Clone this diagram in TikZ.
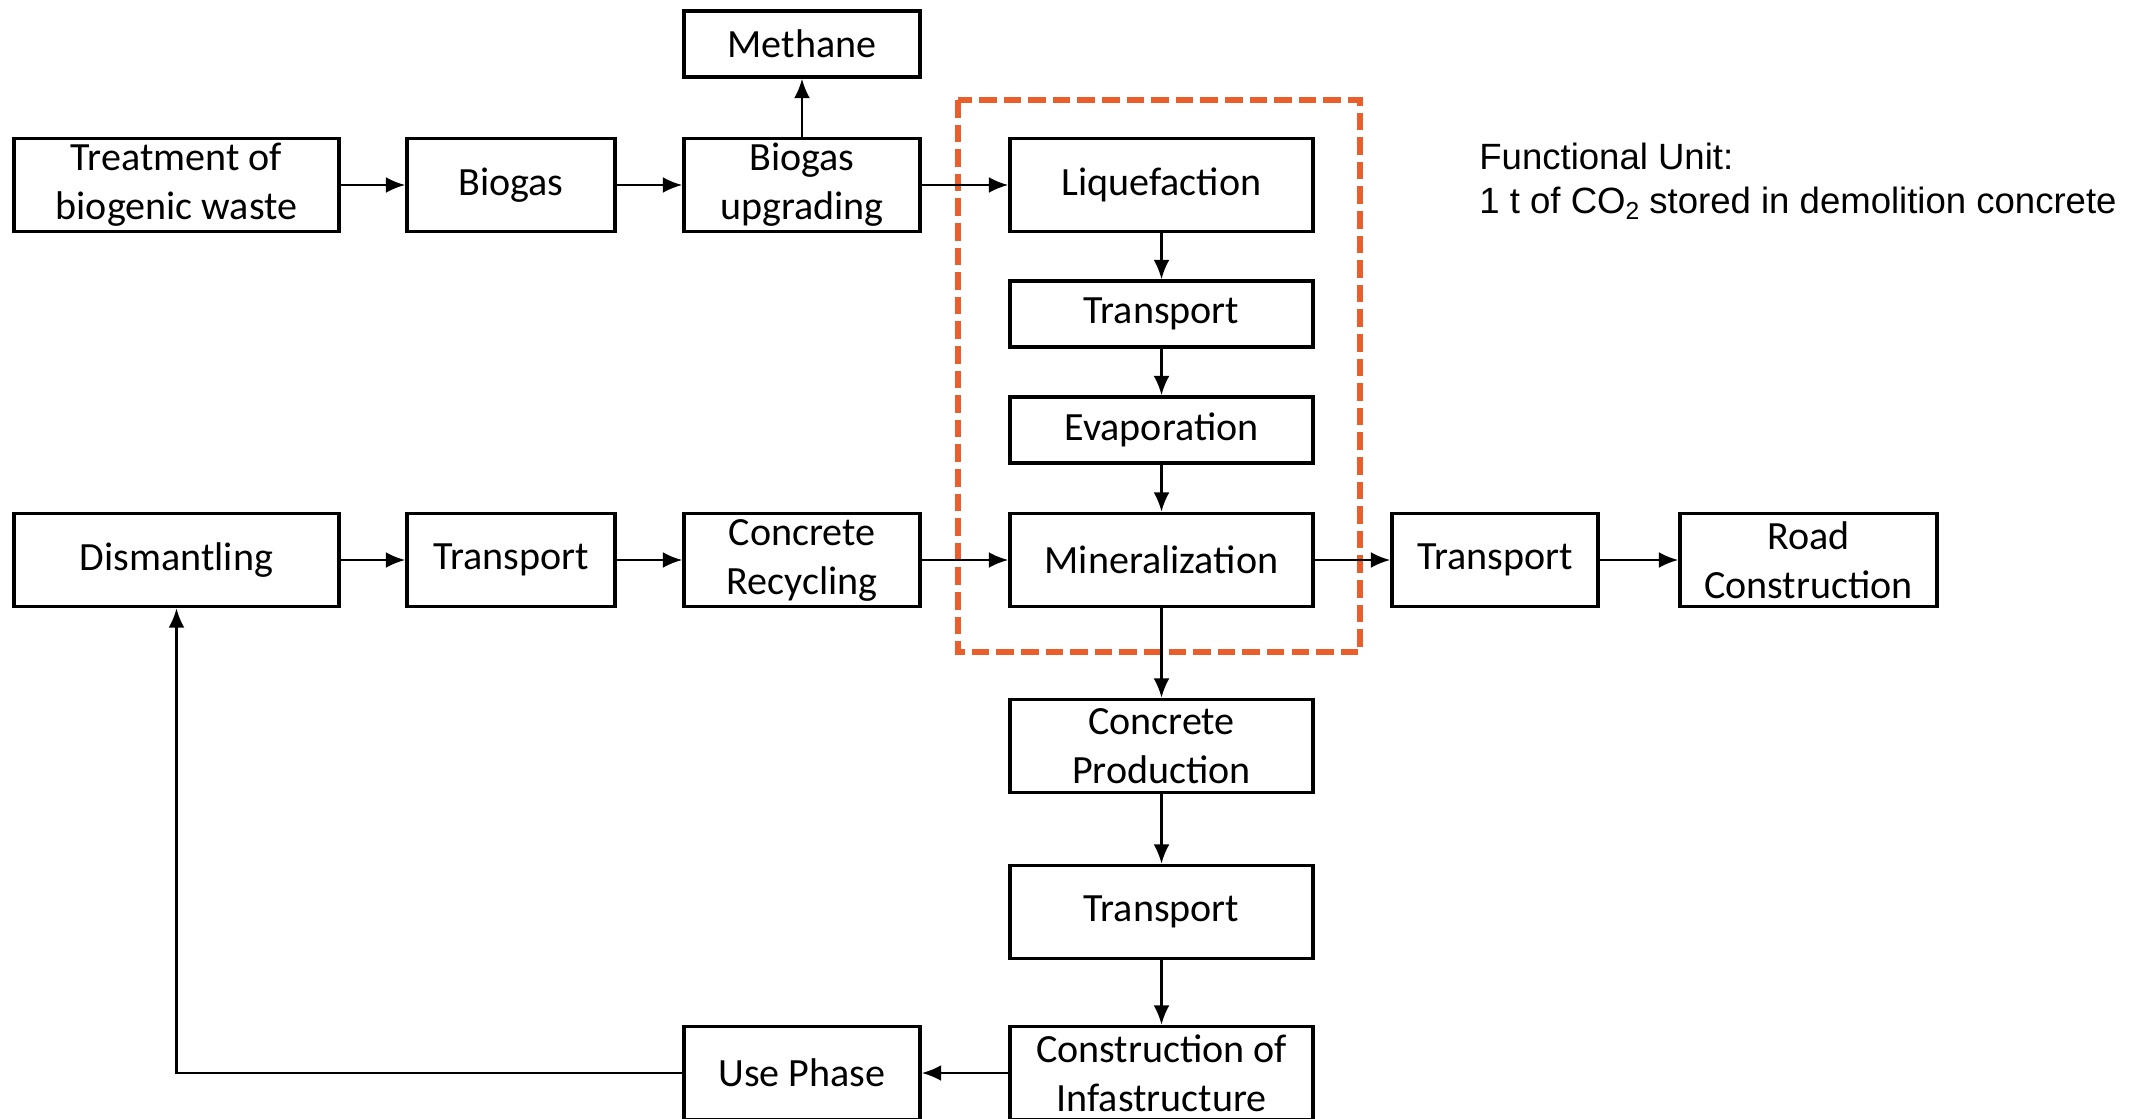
\documentclass[tikz,border=0pt]{standalone}
\usepackage{fontspec}
\setmainfont{Carlito}
\newfontfamily\arialfont{Liberation Sans}
\usetikzlibrary{arrows.meta}

\definecolor{sysorange}{RGB}{233,94,42}

\tikzset{
  proc/.style 2 args={draw, line width=2pt, inner sep=0pt, align=center,
    minimum width=#1*0.02cm, minimum height=#2*0.02cm,
    font=\fontsize{22.8pt}{27.9pt}\selectfont},
  flow/.style={line width=1.4pt, -{Latex[length=11pt,width=9pt]}},
  sysbound/.style={draw=sysorange, line width=3.4pt, dash pattern=on 10pt off 4pt}
}

\begin{document}
\begin{tikzpicture}[x=0.02cm, y=-0.02cm]
    \useasboundingbox (0,0) rectangle (2144,1119);
    \draw [sysbound] (958,100) rectangle (1360,652);

    \node [proc={325}{93}] (treat) at (176.5,185) {Treatment of\\biogenic waste};
    \node [proc={208}{93}] (biogas) at (511,185) {Biogas};
    \node [proc={236}{93}] (upgr) at (802,185) {Biogas\\upgrading};
    \node [proc={236}{66}] (meth) at (802,44) {Methane};
    \node [proc={303}{93}] (liq) at (1161.5,185) {Liquefaction};
    \node [proc={303}{66}] (trliq) at (1161.5,314) {Transport};
    \node [proc={303}{66}] (evap) at (1161.5,430) {Evaporation};
    \node [proc={303}{93}] (mine) at (1161.5,560) {Mineralization};

    \node [proc={325}{93}] (dism) at (176.5,560) {Dismantling};
    \node [proc={208}{93}] (trdem) at (511,560) {Transport};
    \node [proc={236}{93}] (recy) at (802,560) {Concrete\\Recycling};
    \node [proc={206}{93}] (trroad) at (1495,560) {Transport};
    \node [proc={257}{93}] (road) at (1808.5,560) {Road\\Construction};

    \node [proc={303}{93}] (prod) at (1161.5,746) {Concrete\\Production};
    \node [proc={303}{93}] (trcon) at (1161.5,912) {Transport};
    \node [proc={303}{93}] (cons) at (1161.5,1073) {Construction of\\Infastructure};
    \node [proc={236}{93}] (use) at (802,1073) {Use Phase};

    \node [anchor=north west, inner sep=0pt, align=left,
        font=\arialfont\fontsize{20.8pt}{25pt}\selectfont] (fu) at (1479,143)
        {Functional Unit:\\1 t of CO\raisebox{-0.3ex}{\fontsize{14pt}{14pt}\selectfont 2} stored in demolition concrete};

    \draw [flow] (treat) -- (biogas);
    \draw [flow] (biogas) -- (upgr);
    \draw [flow] (upgr) -- (meth);
    \draw [flow] (upgr) -- (liq);
    \draw [flow] (liq) -- (trliq);
    \draw [flow] (trliq) -- (evap);
    \draw [flow] (evap) -- (mine);
    \draw [flow] (dism) -- (trdem);
    \draw [flow] (trdem) -- (recy);
    \draw [flow] (recy) -- (mine);
    \draw [flow] (mine) -- (trroad);
    \draw [flow] (trroad) -- (road);
    \draw [flow] (mine) -- (prod);
    \draw [flow] (prod) -- (trcon);
    \draw [flow] (trcon) -- (cons);
    \draw [flow] (cons) -- (use);
    \draw [flow] (use.west) -| (dism.south);
\end{tikzpicture}
\end{document}
